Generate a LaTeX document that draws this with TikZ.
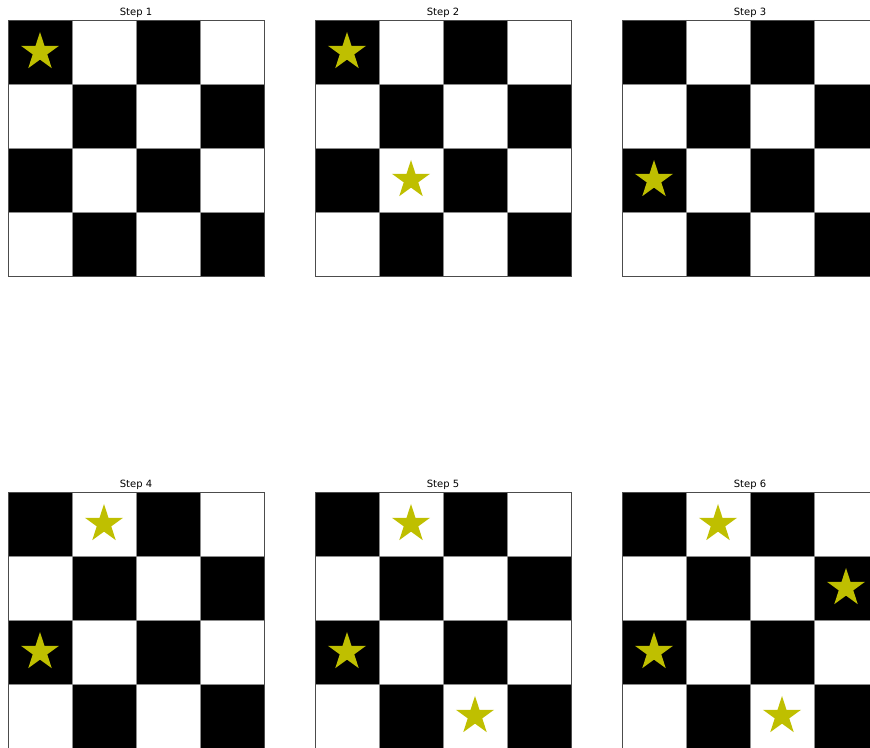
\documentclass[tikz,border=0pt]{standalone}
\usepackage{fontspec}
\setmainfont{DejaVu Sans}
\usetikzlibrary{shapes.geometric}
\definecolor{staryellow}{RGB}{191,191,0}
\tikzset{
  blackcell/.style={fill=black},
  gridline/.style={draw=black!45, line width=0.8pt},
  frameline/.style={draw=black!70, line width=0.8pt},
  starmark/.style={star, star points=5, star point ratio=2.618, minimum size=40pt, inner sep=0pt, fill=staryellow, draw=none},
  steptitle/.style={font=\fontsize{10}{12}\selectfont, inner sep=0pt, anchor=base}
}
\begin{document}
\begin{tikzpicture}[x=1pt,y=1pt]
\useasboundingbox (0,0) rectangle (870,747);
\clip (0,0) rectangle (870,747);
\foreach \bx/\by/\n/\stars in {8/727/1/{0/0}, 315/727/2/{0/0,2/1}, 622/727/3/{2/0}, 8/255/4/{0/1,2/0}, 315/255/5/{0/1,2/0,3/2}, 622/255/6/{0/1,1/3,2/0,3/2}} {
  \foreach \r in {0,...,3} {
    \foreach \c in {0,...,3} {
      \pgfmathtruncatemacro\parity{mod(\r+\c,2)}
      \ifnum\parity=0
        \path[blackcell] (\bx+\c*64, \by-\r*64) rectangle ++(64,-64);
      \fi
    }
  }
  \foreach \k in {1,2,3} {
    \path[gridline] (\bx+\k*64, \by) -- (\bx+\k*64, \by-256);
    \path[gridline] (\bx, \by-\k*64) -- (\bx+256, \by-\k*64);
  }
  \path[frameline] (\bx, \by) rectangle (\bx+256, \by-256);
  \node[steptitle] (t\n) at (\bx+128, \by+4) {Step \n};
  \foreach \r/\c in \stars {
    \node[starmark] (s\n-\r-\c) at (\bx+\c*64+32, \by-\r*64-32) {};
  }
}
\end{tikzpicture}
\end{document}
